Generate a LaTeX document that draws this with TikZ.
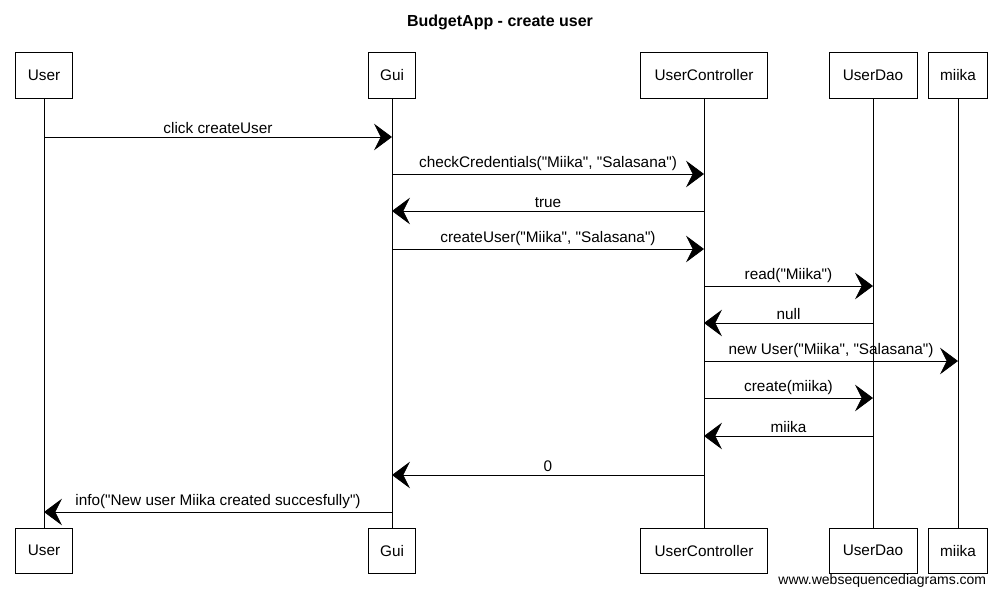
\documentclass[tikz,border=0pt]{standalone}
\usepackage{fontspec}
\defaultfontfeatures[\rmfamily]{}
\setmainfont{Liberation Sans}[Ligatures=ResetAll]
\usetikzlibrary{arrows.meta,positioning}

\newcommand\msgsize{\fontsize{11.5}{13}\selectfont}

\begin{document}
\begin{tikzpicture}[x=0.75pt,y=-0.75pt,line width=0.6pt,
  >={Stealth[length=13.5pt,width=20pt,inset=5pt]},
  actor/.style={draw,minimum height=34pt,inner sep=2pt,font=\msgsize},
  msg/.style={->},
  lbl/.style={above,inner sep=2pt,font=\msgsize}]
      \useasboundingbox (0,0) rectangle (1000,596);

      \node[font=\fontsize{12}{14}\selectfont\bfseries] (title) at (500,22) {BudgetApp - create user};

      % participants, top row
      \node[actor,minimum width=43pt] (Ut) at (44,75.5) {User};
      \node[actor,minimum width=35pt] (Gt) at (392,75.5) {Gui};
      \node[actor,minimum width=95pt] (Ct) at (704,75.5) {UserController};
      \node[actor,minimum width=66pt] (Dt) at (873,75.5) {UserDao};
      \node[actor,minimum width=44pt] (Mt) at (958,75.5) {miika};

      % participants, bottom row
      \node[actor,minimum width=43pt] (Ub) [below=321.75pt of Ut] {User};
      \node[actor,minimum width=35pt] (Gb) [below=321.75pt of Gt] {Gui};
      \node[actor,minimum width=95pt] (Cb) [below=321.75pt of Ct] {UserController};
      \node[actor,minimum width=66pt] (Db) [below=321.75pt of Dt] {UserDao};
      \node[actor,minimum width=44pt] (Mb) [below=321.75pt of Mt] {miika};

      % lifelines
      \draw (Ut) -- (Ub);
      \draw (Gt) -- (Gb);
      \draw (Ct) -- (Cb);
      \draw (Dt) -- (Db);
      \draw (Mt) -- (Mb);

      % messages
      \path (Ut |- 0,137) edge[msg] node[lbl] {click createUser} (Gt |- 0,137);
      \path (Gt |- 0,174) edge[msg] node[lbl] {checkCredentials("Miika", "Salasana")} (Ct |- 0,174);
      \path (Ct |- 0,211) edge[msg] node[lbl] {true} (Gt |- 0,211);
      \path (Gt |- 0,249) edge[msg] node[lbl] {createUser("Miika", "Salasana")} (Ct |- 0,249);
      \path (Ct |- 0,286) edge[msg] node[lbl] {read("Miika")} (Dt |- 0,286);
      \path (Dt |- 0,323) edge[msg] node[lbl] {null} (Ct |- 0,323);
      \path (Ct |- 0,361) edge[msg] node[lbl] {new User("Miika", "Salasana")} (Mt |- 0,361);
      \path (Ct |- 0,398) edge[msg] node[lbl] {create(miika)} (Dt |- 0,398);
      \path (Dt |- 0,436) edge[msg] node[lbl] {miika} (Ct |- 0,436);
      \path (Ct |- 0,475) edge[msg] node[lbl] {0} (Gt |- 0,475);
      \path (Gt |- 0,512) edge[msg] node[lbl] {info("New user Miika created succesfully")} (Ut |- 0,512);

      \node[anchor=east,font=\fontsize{10.5}{12}\selectfont] (site) at (991,581) {www.websequencediagrams.com};

    \end{tikzpicture}
\end{document}
